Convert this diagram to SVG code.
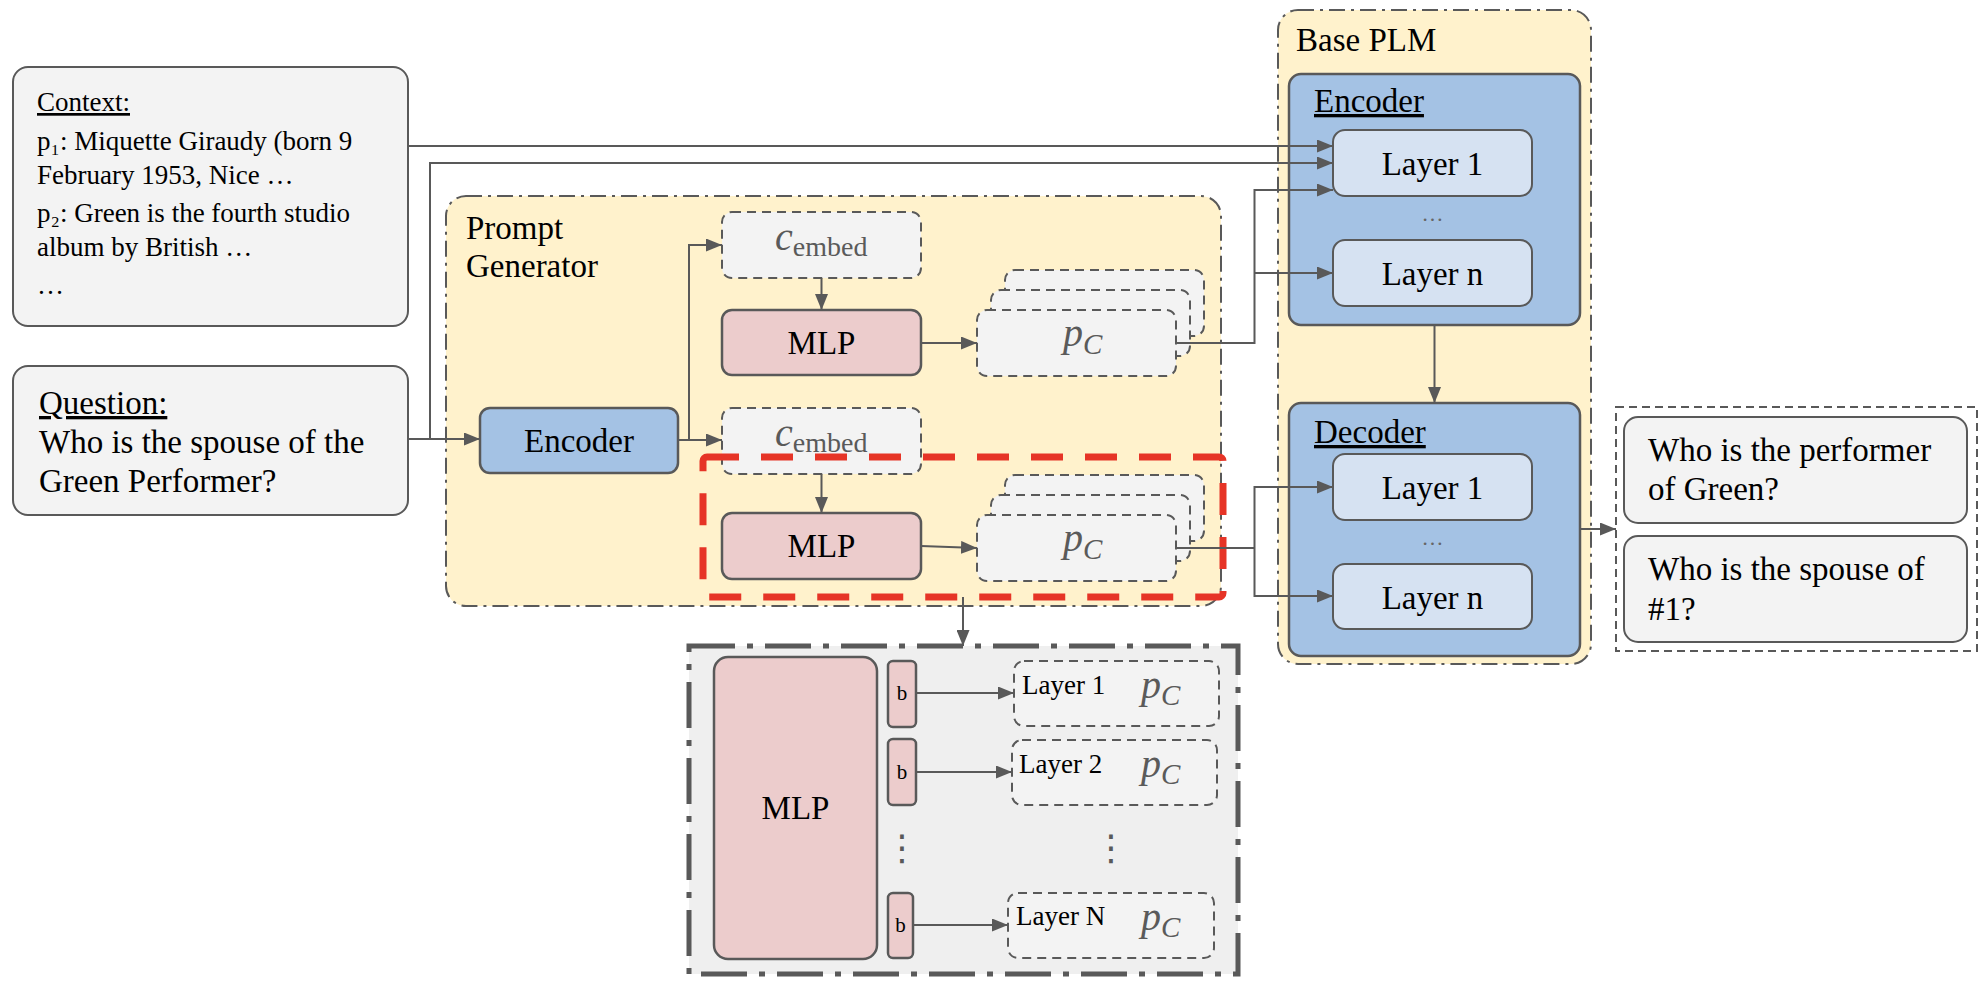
<svg xmlns="http://www.w3.org/2000/svg" width="1986" height="992" viewBox="0 0 1986 992">
<defs>
<style>
text{font-family:"Liberation Serif","Times New Roman",serif;fill:#000}
.t33{font-size:33px}
.t27{font-size:27px}
.mid{text-anchor:middle}
.ul{text-decoration:underline}
.box{fill:#f3f3f3;stroke:#595959;stroke-width:2}
.grp{fill:#fff2cc;stroke:#595959;stroke-width:2;stroke-dasharray:16 6 3 6}
.blue{fill:#a4c2e4;stroke:#595959;stroke-width:2.5}
.lblue{fill:#d6e2f2;stroke:#595959;stroke-width:2}
.pink{fill:#eccccc;stroke:#595959;stroke-width:2.5}
.dash{fill:#f3f3f3;stroke:#595959;stroke-width:2;stroke-dasharray:9 6}
.conn{fill:none;stroke:#595959;stroke-width:2}
.arr{marker-end:url(#ah)}
.math{fill:#5a5a5a;font-style:italic;font-size:40px}
.sub{font-size:29px}
.emb{font-style:normal;font-size:28px}
.dots{fill:#666;font-size:22px;text-anchor:middle}
.vd{font-family:"DejaVu Sans",sans-serif;fill:#595959;font-size:36px;text-anchor:middle}
</style>
<marker id="ah" viewBox="0 0 16 13" refX="16" refY="6.5" markerWidth="16" markerHeight="13" orient="auto" markerUnits="userSpaceOnUse">
<path d="M0,0 L16,6.5 L0,13 z" fill="#595959"/>
</marker>
</defs>
<rect x="0" y="0" width="1986" height="992" fill="#fff"/>

<g id="context">
<rect class="box" x="13" y="67" width="395" height="259" rx="15"/>
<text class="t27 ul" x="37" y="111">Context:</text>
<text class="t27" x="37" y="150">p₁: Miquette Giraudy (born 9</text>
<text class="t27" x="37" y="184">February 1953, Nice …</text>
<text class="t27" x="37" y="222">p₂: Green is the fourth studio</text>
<text class="t27" x="37" y="256">album by British …</text>
<text class="t27" x="37" y="294">…</text>
</g>

<g id="question">
<rect class="box" x="13" y="366" width="395" height="149" rx="15"/>
<text class="t33 ul" x="39" y="414">Question:</text>
<text class="t33" x="39" y="453">Who is the spouse of the</text>
<text class="t33" x="39" y="492">Green Performer?</text>
</g>

<g id="prompt-generator">
<rect class="grp" x="446" y="196" width="775" height="410" rx="20"/>
<text class="t33" x="466" y="239">Prompt</text>
<text class="t33" x="466" y="277">Generator</text>
</g>

<g id="pg-encoder">
<rect class="blue" x="480" y="408" width="198" height="65" rx="10"/>
<text class="t33 mid" x="579" y="452">Encoder</text>
</g>

<g id="cembed-1">
<rect class="dash" x="722" y="212" width="199" height="66" rx="10"/>
<text class="math" x="775" y="250">c<tspan class="emb" dy="6">embed</tspan></text>
</g>
<g id="mlp-1">
<rect class="pink" x="722" y="310" width="199" height="65" rx="10"/>
<text class="t33 mid" x="821.5" y="354">MLP</text>
</g>
<g id="pc-stack-1">
<rect class="dash" x="1005" y="270" width="199" height="66" rx="10"/>
<rect class="dash" x="991" y="290" width="199" height="66" rx="10"/>
<rect class="dash" x="977" y="310" width="199" height="66" rx="10"/>
<text class="math" x="1063" y="346">p<tspan class="sub" dy="8">C</tspan></text>
</g>

<g id="cembed-2">
<rect class="dash" x="722" y="408" width="199" height="66" rx="10"/>
<text class="math" x="775" y="446">c<tspan class="emb" dy="6">embed</tspan></text>
</g>
<g id="mlp-2">
<rect class="pink" x="722" y="513" width="199" height="66" rx="10"/>
<text class="t33 mid" x="821.5" y="557">MLP</text>
</g>
<g id="pc-stack-2">
<rect class="dash" x="1005" y="475" width="199" height="66" rx="10"/>
<rect class="dash" x="991" y="495" width="199" height="66" rx="10"/>
<rect class="dash" x="977" y="515" width="199" height="66" rx="10"/>
<text class="math" x="1063" y="551">p<tspan class="sub" dy="8">C</tspan></text>
</g>

<g id="highlight">
<rect x="703" y="457" width="520" height="140" rx="4" fill="none" stroke="#e63426" stroke-width="7" stroke-dasharray="32 22"/>
</g>

<g id="detail">
<rect x="689" y="646" width="549" height="328" fill="#efefef" stroke="#595959" stroke-width="5" stroke-dasharray="46 12 6 12"/>
<g id="detail-mlp">
<rect class="pink" x="714" y="657" width="163" height="302" rx="14"/>
<text class="t33 mid" x="795.5" y="819">MLP</text>
</g>
<g id="b1"><rect class="pink" x="888" y="661" width="28" height="66" rx="5"/><text class="mid" style="font-size:21px" x="902" y="700">b</text></g>
<g id="b2"><rect class="pink" x="888" y="739" width="28" height="66" rx="5"/><text class="mid" style="font-size:21px" x="902" y="779">b</text></g>
<g id="b3"><rect class="pink" x="888" y="893" width="25" height="65" rx="5"/><text class="mid" style="font-size:21px" x="900.5" y="932">b</text></g>
<g id="dl1"><rect class="dash" x="1014" y="661" width="205" height="65" rx="10"/><text class="t27" x="1022" y="694">Layer 1</text><text class="math" x="1141" y="698">p<tspan class="sub" dy="7">C</tspan></text></g>
<g id="dl2"><rect class="dash" x="1012" y="740" width="205" height="65" rx="10"/><text class="t27" x="1019" y="773">Layer 2</text><text class="math" x="1141" y="777">p<tspan class="sub" dy="7">C</tspan></text></g>
<g id="dlN"><rect class="dash" x="1008" y="893" width="206" height="65" rx="10"/><text class="t27" x="1016" y="925">Layer N</text><text class="math" x="1141" y="930">p<tspan class="sub" dy="7">C</tspan></text></g>
<text class="vd" x="902" y="860">⋮</text>
<text class="vd" x="1111" y="860">⋮</text>
</g>

<g id="base-plm">
<rect class="grp" x="1278" y="10" width="313" height="654" rx="20"/>
<text class="t33" x="1296" y="51">Base PLM</text>
</g>
<g id="plm-encoder">
<rect class="blue" x="1289" y="74" width="291" height="251" rx="12"/>
<text class="t33 ul" x="1314" y="112">Encoder</text>
<g id="enc-layer1"><rect class="lblue" x="1333" y="130" width="199" height="66" rx="12"/><text class="t33 mid" x="1432.5" y="175">Layer 1</text></g>
<text class="dots" x="1432.5" y="221">…</text>
<g id="enc-layern"><rect class="lblue" x="1333" y="240" width="199" height="66" rx="12"/><text class="t33 mid" x="1432.5" y="285">Layer n</text></g>
</g>
<g id="plm-decoder">
<rect class="blue" x="1289" y="403" width="291" height="253" rx="12"/>
<text class="t33 ul" x="1314" y="443">Decoder</text>
<g id="dec-layer1"><rect class="lblue" x="1333" y="454" width="199" height="66" rx="12"/><text class="t33 mid" x="1432.5" y="499">Layer 1</text></g>
<text class="dots" x="1432.5" y="545">…</text>
<g id="dec-layern"><rect class="lblue" x="1333" y="564" width="199" height="65" rx="12"/><text class="t33 mid" x="1432.5" y="609">Layer n</text></g>
</g>

<g id="outputs">
<rect x="1616" y="407" width="361" height="244" fill="#fff" stroke="#595959" stroke-width="2" stroke-dasharray="8 5"/>
<g id="out-1"><rect class="box" x="1624" y="417" width="343" height="106" rx="14"/>
<text class="t33" x="1648" y="461">Who is the performer</text>
<text class="t33" x="1648" y="500">of Green?</text></g>
<g id="out-2"><rect class="box" x="1624" y="536" width="343" height="106" rx="14"/>
<text class="t33" x="1648" y="580">Who is the spouse of</text>
<text class="t33" x="1648" y="620">#1?</text></g>
</g>

<g id="connectors">
<path class="conn arr" d="M408,146 H1333"/>
<path class="conn arr" d="M408,439 H480"/>
<path class="conn arr" d="M430,439 V163 H1333"/>
<path class="conn arr" d="M678,440 H689 V245 H722"/>
<path class="conn arr" d="M689,440 H722"/>
<path class="conn arr" d="M821.5,278 V310"/>
<path class="conn arr" d="M821.5,474 V513"/>
<path class="conn arr" d="M921,343 H977"/>
<path class="conn arr" d="M921,546 L977,548"/>
<path class="conn arr" d="M1176,343 H1254.5 V190 H1333"/>
<path class="conn arr" d="M1254.5,273 H1333"/>
<path class="conn" d="M1176,548 H1254.5"/>
<path class="conn arr" d="M1254.5,548 V487 H1333"/>
<path class="conn arr" d="M1254.5,548 V596 H1333"/>
<path class="conn arr" d="M1434.5,325 V403"/>
<path class="conn arr" d="M1580,529 H1616"/>
<path class="conn arr" d="M963,597 V646"/>
<path class="conn arr" d="M916,693 H1014"/>
<path class="conn arr" d="M916,772 H1012"/>
<path class="conn arr" d="M913,925 H1008"/>
</g>
</svg>
